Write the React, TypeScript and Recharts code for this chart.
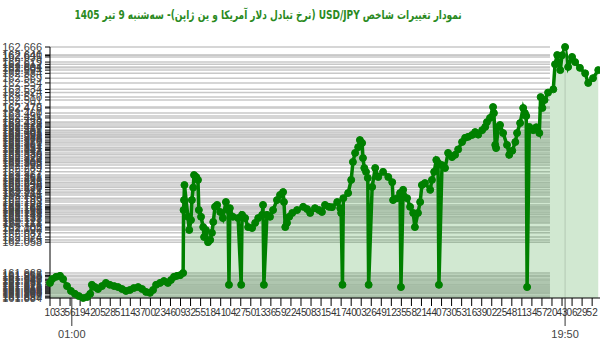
import React from "react";
import {
  Area,
  AreaChart,
  CartesianGrid,
  ReferenceLine,
  XAxis,
  YAxis,
} from "recharts";

// minutes since midnight for each quote
const timeMin = [
  10, 15, 24, 33, 40, 49, 58, 67, 76, 86, 95, 102, 106, 113, 120, 129, 138, 147,
  157, 166, 175, 184, 193, 202, 212, 221, 230, 239, 246, 253, 262, 271, 280, 287,
  294, 301, 308, 315, 316, 317, 318, 326, 329, 333, 335, 338, 340, 345, 349, 351,
  356, 361, 363, 367, 372, 377, 381, 384, 388, 393, 400, 406, 413, 418, 420, 422,
  429, 441, 448, 450, 457, 464, 473, 480, 487, 496, 498, 500, 507, 514, 521, 530,
  537, 544, 546, 549, 553, 558, 565, 576, 590, 599, 606, 617, 626, 633, 640, 649,
  656, 668, 675, 677, 680, 682, 693, 700, 704, 709, 716, 720, 725, 727, 730, 734,
  738, 740, 748, 755, 762, 773, 785, 794, 796, 805, 812, 814, 819, 828, 835, 842,
  846, 853, 858, 862, 869, 881, 885, 890, 895, 899, 901, 908, 915, 922, 931, 938,
  945, 954, 961, 968, 977, 984, 991, 1000, 1007, 1011, 1018, 1025, 1027, 1030,
  1032, 1037, 1041, 1048, 1057, 1062, 1069, 1076, 1080, 1087, 1094, 1098, 1101,
  1103, 1108, 1117, 1124, 1131, 1134, 1138, 1143, 1151, 1163, 1167, 1172, 1179,
  1183, 1190, 1197, 1206, 1213, 1224, 1236, 1243, 1254, 1266,
];

const usdJpy = [
  161.931, 161.943, 161.95, 161.953, 161.943, 161.921, 161.906, 161.897, 161.89,
  161.884, 161.887, 161.897, 161.925, 161.918, 161.912, 161.921, 161.931, 161.925,
  161.921, 161.918, 161.912, 161.906, 161.909, 161.915, 161.918, 161.912, 161.903,
  161.9, 161.909, 161.925, 161.931, 161.937, 161.931, 161.94, 161.95, 161.953,
  161.955, 161.962, 162.158, 162.189, 162.236, 162.137, 162.096, 162.127, 162.189,
  162.228, 162.267, 162.261, 162.252, 162.158, 162.137, 162.105, 162.074, 162.096,
  162.058, 162.065, 162.087, 162.121, 162.168, 162.174, 162.152, 162.133, 162.183,
  162.158, 161.925, 162.164, 162.137, 162.133, 161.925, 162.143, 162.133, 162.105,
  162.102, 162.118, 162.133, 162.143, 162.174, 161.925, 162.143, 162.137, 162.158,
  162.189, 162.205, 162.214, 162.183, 162.105, 162.118, 162.137, 162.149, 162.158,
  162.168, 162.161, 162.149, 162.164, 162.158, 162.152, 162.174, 162.168, 162.167,
  162.183, 162.164, 162.149, 161.925, 162.195, 162.211, 162.252, 162.308, 162.336,
  162.354, 162.376, 162.367, 162.32, 162.289, 162.277, 162.258, 161.925, 162.23,
  162.289, 162.261, 162.277, 162.261, 162.245, 162.189, 162.195, 162.211, 161.918,
  162.221, 162.195, 162.168, 162.149, 162.105, 162.149, 162.183, 162.236, 162.242,
  162.221, 162.252, 162.277, 162.314, 162.305, 161.925, 162.298, 162.289, 162.336,
  162.323, 162.33, 162.347, 162.37, 162.383, 162.386, 162.392, 162.401, 162.393,
  162.407, 162.417, 162.432, 162.445, 162.479, 162.46, 162.361, 162.351, 162.417,
  162.423, 162.398, 162.361, 162.33, 162.343, 162.37, 162.398, 162.429, 162.476,
  162.46, 162.451, 161.918, 162.417, 162.407, 162.416, 162.398, 162.51, 162.476,
  162.501, 162.524, 162.534, 162.612, 162.641, 162.594, 162.64, 162.666, 162.604,
  162.635, 162.619, 162.601, 162.584, 162.554, 162.569, 162.594,
];

const hourTicks = [60, 1190];
const X_DOMAIN = [10, 1270];
const MINUTE_STEP = 23;

const data = timeMin.map((t, i) => ({ t, v: usdJpy[i] }));
const yTicks = Array.from(new Set(usdJpy)).sort((a, b) => a - b);
const minuteTicks: number[] = [];
for (let m = X_DOMAIN[0]; m < X_DOMAIN[1]; m += MINUTE_STEP) minuteTicks.push(m);

const pad = (n: number) => String(n).padStart(2, "0");
const hhmm = (m: number) => `${pad(Math.floor(m / 60))}:${pad(m % 60)}`;

const FONT = "'Liberation Sans', Arial, sans-serif";
const GREEN = "#008000";

function gridLine(props: any) {
  const { x1, x2, y1, y2, index } = props;
  return (
    <line
      key={`h-${index}-${y1}`}
      x1={x1}
      x2={x1 + (x2 - x1) * 0.909}
      y1={y1}
      y2={y2}
      stroke="#c8c8c8"
      strokeWidth={1.5}
    />
  );
}

function HourTick(props: any) {
  const { x, y, payload } = props;
  return (
    <g>
      <line x1={x} x2={x} y1={y - 30} y2={y - 2} stroke="#333" />
      <text x={x} y={y + 10} textAnchor="middle" fontSize={11} fill="#444" fontFamily={FONT}>
        {hhmm(payload.value)}
      </text>
    </g>
  );
}

export default function App() {
  return (
    <div style={{ position: "fixed", left: 0, top: 0, width: 600, height: 352, background: "#fff" }}>
      <div
        style={{
          position: "absolute",
          left: 268,
          top: 8,
          transform: "translateX(-50%) scaleX(0.75)",
          whiteSpace: "nowrap",
          direction: "rtl",
          fontFamily: "'DejaVu Sans', sans-serif",
          fontWeight: "bold",
          fontSize: 12,
          color: "#2a8a1e",
        }}
      >
        نمودار تغییرات شاخص USD/JPY (نرخ تبادل دلار آمریکا و ین ژاپن)- سه‌شنبه  9 تیر 1405
      </div>
      <AreaChart width={600} height={352} data={data} margin={{ top: 47, right: 0, bottom: 2, left: 0 }}>
        <CartesianGrid vertical={false} horizontal={gridLine} />
        <XAxis
          dataKey="t"
          type="number"
          domain={X_DOMAIN}
          ticks={minuteTicks}
          interval={0}
          tickFormatter={(m: number) => pad(m % 60)}
          height={22}
          tickSize={8}
          tickMargin={3}
          axisLine={{ stroke: "#000" }}
          tickLine={{ stroke: "#000" }}
          tick={{ fontSize: 10, fill: "#333", fontFamily: FONT }}
        />
        <XAxis
          xAxisId="h"
          dataKey="t"
          type="number"
          domain={X_DOMAIN}
          ticks={hourTicks}
          interval={0}
          height={30}
          axisLine={false}
          tickLine={false}
          tick={<HourTick />}
        />
        <YAxis
          type="number"
          domain={["dataMin", "dataMax"]}
          ticks={yTicks}
          interval={0}
          width={50}
          tickSize={5}
          tickMargin={3}
          tickFormatter={(v: number) => v.toFixed(3)}
          axisLine={{ stroke: "#000" }}
          tickLine={{ stroke: "#000" }}
          tick={{ fontSize: 11, fill: "#444", fontFamily: FONT }}
        />
        <ReferenceLine x={1190} stroke="#b4c8b4" />
        <Area
          type="linear"
          dataKey="v"
          stroke={GREEN}
          strokeWidth={3.5}
          fill={GREEN}
          fillOpacity={0.18}
          dot={{ r: 3.5, fill: GREEN, fillOpacity: 1, stroke: GREEN, strokeWidth: 1 }}
          activeDot={false}
          isAnimationActive={false}
        />
      </AreaChart>
    </div>
  );
}
